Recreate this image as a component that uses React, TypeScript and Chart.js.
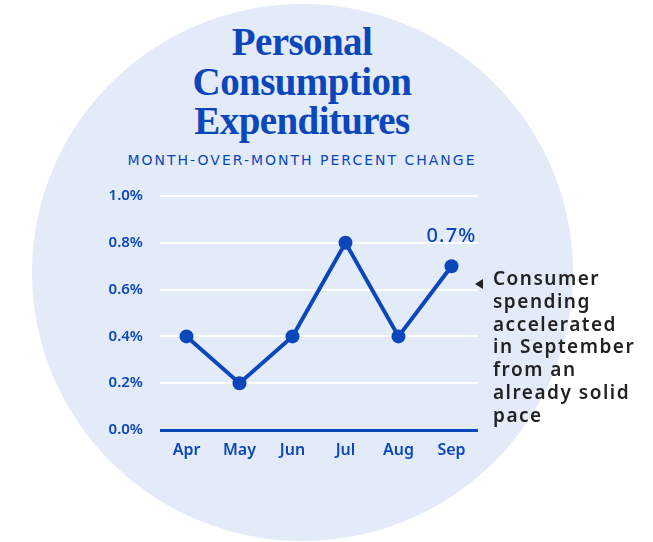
import React, { useEffect, useRef } from "react";
import { Chart, registerables } from "chart.js";

Chart.register(...registerables);

const months = ["Apr", "May", "Jun", "Jul", "Aug", "Sep"];
const pceChange = [0.4, 0.2, 0.4, 0.8, 0.4, 0.7];
const yTicks = [0, 0.2, 0.4, 0.6, 0.8, 1.0];
const titleLines = ["Personal", "Consumption", "Expenditures"];
const subtitleText = "MONTH-OVER-MONTH PERCENT CHANGE";
const calloutValue = "0.7%";
const noteLines = ["Consumer", "spending", "accelerated", "in September", "from an", "already solid", "pace"];

const BLUE = "#0b47bb";
const SANS = "'Noto Sans', 'Open Sans', sans-serif";

const lastLabelPlugin = {
  id: "lastLabel",
  afterDatasetsDraw(chart: any) {
    const meta = chart.getDatasetMeta(0);
    const pt = meta.data[meta.data.length - 1];
    if (!pt) return;
    const ctx = chart.ctx;
    ctx.save();
    ctx.fillStyle = BLUE;
    ctx.font = `500 20px ${SANS}`;
    try {
      (ctx as any).letterSpacing = "1.2px";
    } catch (e) {}
    ctx.textAlign = "center";
    ctx.textBaseline = "middle";
    ctx.fillText(calloutValue, pt.x, pt.y - 30);
    ctx.restore();
  },
};

export default function App() {
  const ref = useRef<HTMLCanvasElement | null>(null);

  useEffect(() => {
    if (!ref.current) return;
    const chart = new Chart(ref.current, {
      type: "line",
      data: {
        labels: months,
        datasets: [
          {
            data: pceChange,
            borderColor: BLUE,
            backgroundColor: BLUE,
            borderWidth: 4,
            pointRadius: 7,
            pointHoverRadius: 7,
            pointBackgroundColor: BLUE,
            pointBorderWidth: 0,
            tension: 0,
          },
        ],
      },
      options: {
        animation: false,
        responsive: false,
        maintainAspectRatio: false,
        layout: { padding: { top: 0, right: 12, left: 0, bottom: 0 } },
        plugins: {
          legend: { display: false },
          tooltip: { enabled: false },
          title: { display: false },
        },
        scales: {
          x: {
            offset: true,
            grid: { display: false, drawTicks: false },
            border: { display: false },
            ticks: {
              color: BLUE,
              font: { family: SANS, size: 16, weight: 600 },
              padding: 11,
            },
            afterFit(scale: any) {
              scale.height = 40;
            },
          },
          y: {
            min: 0,
            max: 1.0,
            afterBuildTicks(scale: any) {
              scale.ticks = yTicks.map((v) => ({ value: v }));
            },
            grid: {
              drawTicks: false,
              color: (c: any) => (c.tick && c.tick.value === 0 ? BLUE : "#ffffff"),
              lineWidth: (c: any) => (c.tick && c.tick.value === 0 ? 3 : 2),
            },
            border: { display: false },
            ticks: {
              color: BLUE,
              font: { family: SANS, size: 15, weight: 600 },
              padding: 17,
              callback: (v: any) => Number(v).toFixed(1) + "%",
            },
            afterFit(scale: any) {
              scale.width = 70;
            },
          },
        },
      },
      plugins: [lastLabelPlugin],
    });
    return () => chart.destroy();
  }, []);

  return (
    <div style={{ position: "absolute", left: 0, top: 0, width: 653, height: 542, overflow: "hidden", background: "#ffffff" }}>
      <div
        style={{
          position: "absolute",
          left: 32,
          top: 4,
          width: 541,
          height: 537,
          borderRadius: "50%",
          background: "#e3ebf8",
        }}
      />
      <div
        style={{
          position: "absolute",
          left: 0,
          top: 22,
          width: 604,
          textAlign: "center",
          fontFamily: "'Liberation Serif', 'DejaVu Serif', serif",
          fontWeight: "bold",
          fontSize: 39,
          lineHeight: "39.5px",
          color: BLUE,
          letterSpacing: "-0.6px",
        }}
      >
        {titleLines.map((l) => (
          <div key={l}>{l}</div>
        ))}
      </div>
      <div
        style={{
          position: "absolute",
          left: 0,
          top: 150,
          width: 604,
          textAlign: "center",
          fontFamily: "'DejaVu Sans', sans-serif",
          fontSize: 14,
          lineHeight: "20px",
          color: BLUE,
          letterSpacing: "2px",
          whiteSpace: "nowrap",
        }}
      >
        {subtitleText}
      </div>
      <canvas
        ref={ref}
        width={400}
        height={300}
        style={{ position: "absolute", left: 90, top: 170, width: 400, height: 300 }}
      />
      <div
        style={{
          position: "absolute",
          left: 475,
          top: 279,
          width: 0,
          height: 0,
          borderTop: "5px solid transparent",
          borderBottom: "5px solid transparent",
          borderRight: "8px solid #222222",
        }}
      />
      <div
        style={{
          position: "absolute",
          left: 493,
          top: 267,
          fontFamily: SANS,
          fontWeight: 600,
          fontSize: 19,
          lineHeight: "22.8px",
          color: "#222222",
          letterSpacing: "1.5px",
          whiteSpace: "nowrap",
        }}
      >
        {noteLines.map((l) => (
          <div key={l}>{l}</div>
        ))}
      </div>
    </div>
  );
}
